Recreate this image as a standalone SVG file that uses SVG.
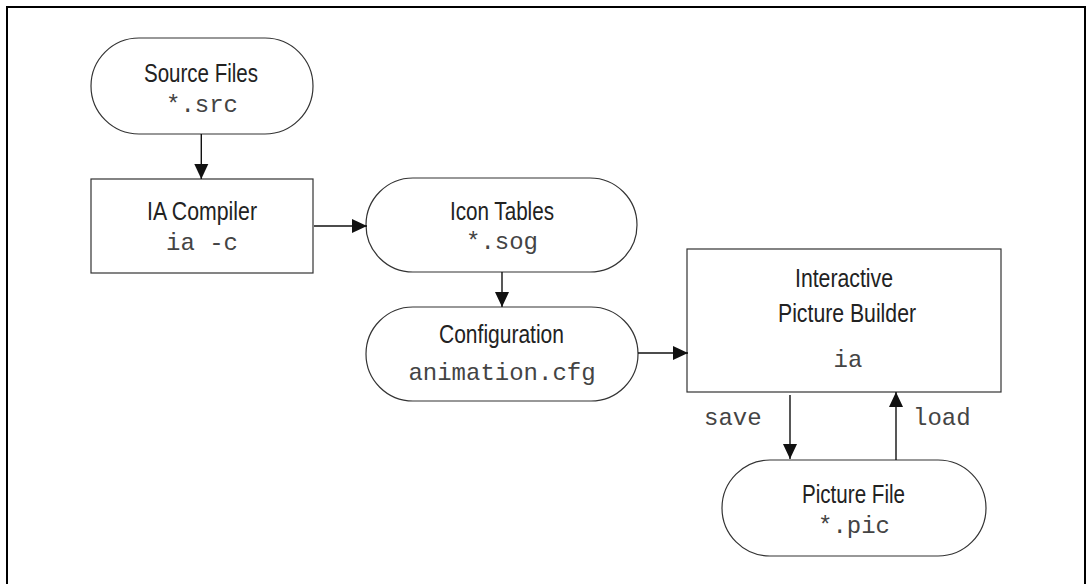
<svg xmlns="http://www.w3.org/2000/svg" width="1086" height="584" viewBox="0 0 1086 584">
<defs>
<marker id="ah" markerWidth="15" markerHeight="15" viewBox="0 0 15 15" refX="15" refY="7.5" orient="auto" markerUnits="userSpaceOnUse">
<path d="M0,0.5 L15,7.5 L0,14.5 Z" fill="#111"/>
</marker>
</defs>
<style>
.shape{fill:#fff;stroke:#333;stroke-width:1.2}
.sans{font-family:"Liberation Sans",Arial,sans-serif;font-size:26px;fill:#222;text-anchor:middle}
.mono{font-family:"Liberation Mono","Courier New",monospace;font-size:24px;fill:#444;text-anchor:middle}
.lbl{font-family:"Liberation Mono","Courier New",monospace;font-size:24px;fill:#444}
.conn{stroke:#111;stroke-width:1.4;fill:none;marker-end:url(#ah)}
</style>
<rect width="1086" height="584" fill="#fff"/>
<path d="M7,584 V7 H1085 V584" fill="none" stroke="#000" stroke-width="2"/>
<g id="source-files">
<rect class="shape" x="91" y="38" width="222" height="96" rx="48" ry="48"/>
<text class="sans" x="201" y="82" textLength="114" lengthAdjust="spacingAndGlyphs">Source Files</text>
<text class="mono" x="202" y="112">*.src</text>
</g>
<g id="ia-compiler">
<rect class="shape" x="91" y="179" width="222" height="94"/>
<text class="sans" x="202" y="220" textLength="110" lengthAdjust="spacingAndGlyphs">IA Compiler</text>
<text class="mono" x="202" y="250">ia -c</text>
</g>
<g id="icon-tables">
<rect class="shape" x="366" y="178" width="271" height="94" rx="47" ry="47"/>
<text class="sans" x="502" y="220" textLength="104" lengthAdjust="spacingAndGlyphs">Icon Tables</text>
<text class="mono" x="502" y="249">*.sog</text>
</g>
<g id="configuration">
<rect class="shape" x="366" y="307" width="272" height="94" rx="47" ry="47"/>
<text class="sans" x="501.5" y="343" textLength="125" lengthAdjust="spacingAndGlyphs">Configuration</text>
<text class="mono" x="502" y="380">animation.cfg</text>
</g>
<g id="picture-builder">
<rect class="shape" x="687" y="249" width="314" height="143"/>
<text class="sans" x="844" y="287" textLength="98" lengthAdjust="spacingAndGlyphs">Interactive</text>
<text class="sans" x="847" y="322" textLength="138" lengthAdjust="spacingAndGlyphs">Picture Builder</text>
<text class="mono" x="848" y="367">ia</text>
</g>
<g id="picture-file">
<rect class="shape" x="722" y="460" width="264" height="96" rx="48" ry="48"/>
<text class="sans" x="853.5" y="503" textLength="103" lengthAdjust="spacingAndGlyphs">Picture File</text>
<text class="mono" x="854" y="533">*.pic</text>
</g>
<g id="connectors">
<line class="conn" x1="201.3" y1="134" x2="201.3" y2="179"/>
<line class="conn" x1="314" y1="226" x2="367" y2="226"/>
<line class="conn" x1="502" y1="272" x2="502" y2="307"/>
<line class="conn" x1="638" y1="353" x2="688" y2="353"/>
<line class="conn" x1="790" y1="395" x2="790" y2="459"/>
<line class="conn" x1="896" y1="460" x2="896" y2="392"/>
<text class="lbl" x="704" y="425">save</text>
<text class="lbl" x="913" y="425">load</text>
</g>
</svg>
